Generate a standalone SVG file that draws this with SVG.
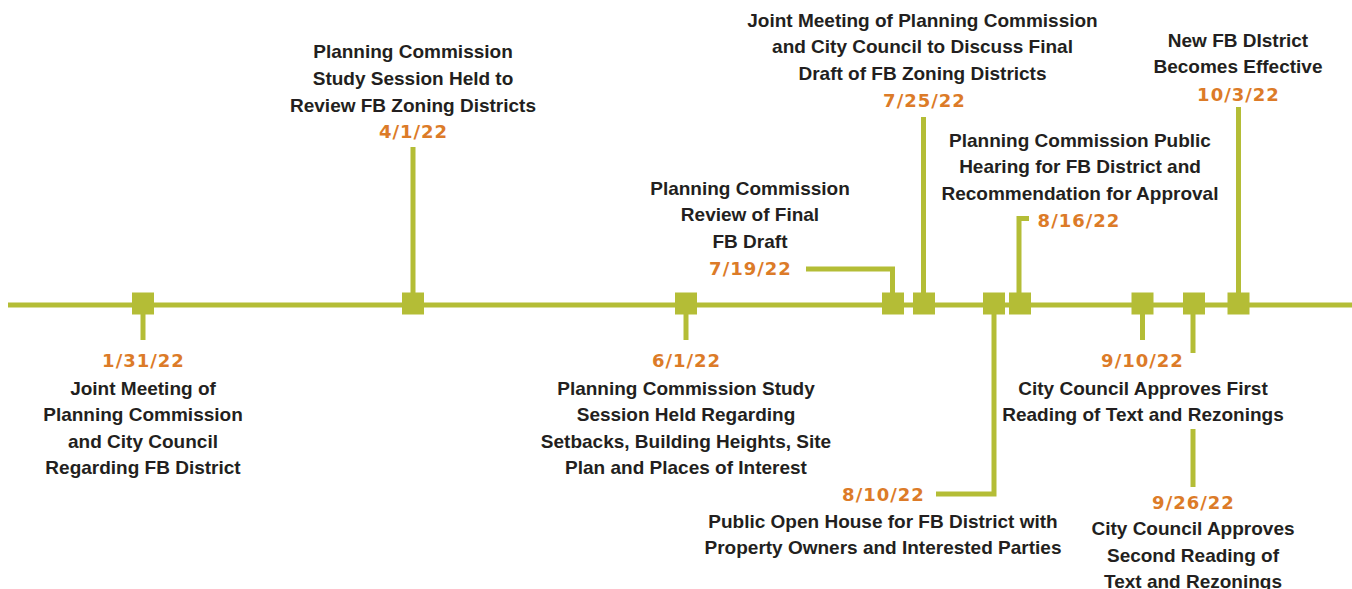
<svg xmlns="http://www.w3.org/2000/svg" width="1352" height="589" viewBox="0 0 1352 589">
<style>
.ln{fill:none;stroke:#b4bd36;stroke-width:5;stroke-linecap:butt;stroke-linejoin:miter}
.sq{fill:#b4bd36}
.t{font-family:"Liberation Sans",Arial,sans-serif;font-weight:bold;font-size:19px;fill:#231f20;text-anchor:middle}
.d{font-family:"DejaVu Sans",sans-serif;font-weight:bold;font-size:18px;fill:#dc7b28;text-anchor:middle;letter-spacing:1px}
</style>
<rect width="1352" height="589" fill="#ffffff"/>
<g id="connectors">
<line class="ln" x1="8" y1="305" x2="1352" y2="305"/>
<line class="ln" x1="143" y1="305" x2="143" y2="340"/>
<line class="ln" x1="413" y1="305" x2="413" y2="147"/>
<line class="ln" x1="686" y1="305" x2="686" y2="340"/>
<polyline class="ln" points="806,269 892.5,269 892.5,305"/>
<line class="ln" x1="923.5" y1="305" x2="923.5" y2="117"/>
<polyline class="ln" points="936,494 994,494 994,305"/>
<polyline class="ln" points="1029,218.5 1019,218.5 1019,305"/>
<line class="ln" x1="1142.5" y1="305" x2="1142.5" y2="340"/>
<line class="ln" x1="1193" y1="305" x2="1193" y2="353"/>
<line class="ln" x1="1193" y1="429" x2="1193" y2="487"/>
<line class="ln" x1="1238.5" y1="305" x2="1238.5" y2="107"/>
</g>
<g id="n1">
<rect class="sq" x="132" y="292.5" width="22" height="22"/>
<text class="d" x="143.5" y="367">1/31/22</text>
<text class="t" x="143" y="394.5">Joint Meeting of</text>
<text class="t" x="143" y="421">Planning Commission</text>
<text class="t" x="143" y="447.5">and City Council</text>
<text class="t" x="143" y="474">Regarding FB District</text>
</g>
<g id="n2">
<rect class="sq" x="402" y="292.5" width="22" height="22"/>
<text class="t" x="413" y="57.5">Planning Commission</text>
<text class="t" x="413" y="84.5">Study Session Held to</text>
<text class="t" x="413" y="111.5">Review FB Zoning Districts</text>
<text class="d" x="413.5" y="138">4/1/22</text>
</g>
<g id="n3">
<rect class="sq" x="675" y="292.5" width="22" height="22"/>
<text class="d" x="686.5" y="367">6/1/22</text>
<text class="t" x="686" y="394.5">Planning Commission Study</text>
<text class="t" x="686" y="421">Session Held Regarding</text>
<text class="t" x="686" y="447.5">Setbacks, Building Heights, Site</text>
<text class="t" x="686" y="474">Plan and Places of Interest</text>
</g>
<g id="n4">
<rect class="sq" x="882" y="292.5" width="22" height="22"/>
<text class="t" x="750" y="194.5">Planning Commission</text>
<text class="t" x="750" y="221">Review of Final</text>
<text class="t" x="750" y="247.5">FB Draft</text>
<text class="d" x="750.5" y="275">7/19/22</text>
</g>
<g id="n5">
<rect class="sq" x="913" y="292.5" width="22" height="22"/>
<text class="t" x="922.5" y="26.5">Joint Meeting of Planning Commission</text>
<text class="t" x="922.5" y="53">and City Council to Discuss Final</text>
<text class="t" x="922.5" y="79.5">Draft of FB Zoning Districts</text>
<text class="d" x="924.5" y="106.5">7/25/22</text>
</g>
<g id="n6">
<rect class="sq" x="983" y="292.5" width="22" height="22"/>
<text class="d" x="883.5" y="501">8/10/22</text>
<text class="t" x="883" y="527.5">Public Open House for FB District with</text>
<text class="t" x="883" y="554">Property Owners and Interested Parties</text>
</g>
<g id="n7">
<rect class="sq" x="1009" y="292.5" width="22" height="22"/>
<text class="t" x="1080" y="146.5">Planning Commission Public</text>
<text class="t" x="1080" y="173">Hearing for FB District and</text>
<text class="t" x="1080" y="199.5">Recommendation for Approval</text>
<text class="d" x="1079" y="226.5">8/16/22</text>
</g>
<g id="n8">
<rect class="sq" x="1131.5" y="292.5" width="22" height="22"/>
<text class="d" x="1142.5" y="367">9/10/22</text>
<text class="t" x="1143" y="394.5">City Council Approves First</text>
<text class="t" x="1143" y="421">Reading of Text and Rezonings</text>
</g>
<g id="n9">
<rect class="sq" x="1183" y="292.5" width="22" height="22"/>
<text class="d" x="1193.5" y="508.5">9/26/22</text>
<text class="t" x="1193" y="535">City Council Approves</text>
<text class="t" x="1193" y="561.5">Second Reading of</text>
<text class="t" x="1193" y="588">Text and Rezonings</text>
</g>
<g id="n10">
<rect class="sq" x="1227.5" y="292.5" width="22" height="22"/>
<text class="t" x="1238" y="46.5">New FB DIstrict</text>
<text class="t" x="1238" y="73">Becomes Effective</text>
<text class="d" x="1238.5" y="100.5">10/3/22</text>
</g>
</svg>
